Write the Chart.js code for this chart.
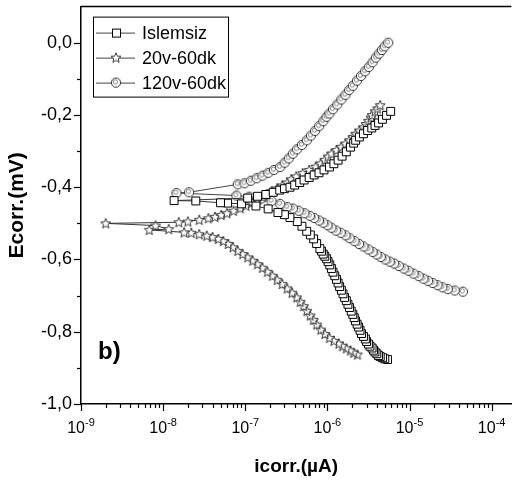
<!DOCTYPE html>
<html>
<head>
<meta charset="utf-8">
<script src="https://cdn.jsdelivr.net/npm/chart.js@4.4.1/dist/chart.umd.min.js"></script>
<style>
  body { margin: 0; background: #fff; }
  canvas { display: block; }
</style>
</head>
<body>
<canvas id="tafelChart" width="518" height="481"></canvas>
<script>
// values, ordered by potential (cathodic end -> anodic end)
// current in A (axis is labelled µA but ticks run 1e-9 .. 1e-4), potential in V

const islemsizI = [5.4e-6, 5.0e-6, 4.7e-6, 4.4e-6, 4.2e-6, 4.0e-6, 3.8e-6, 3.65e-6, 3.5e-6, 3.3e-6,
  3.16e-6, 3.0e-6, 2.9e-6, 2.75e-6, 2.6e-6, 2.5e-6, 2.4e-6, 2.3e-6, 2.2e-6, 2.12e-6,
  2.04e-6, 1.95e-6, 1.86e-6, 1.78e-6, 1.7e-6, 1.62e-6, 1.55e-6, 1.48e-6, 1.41e-6, 1.35e-6,
  1.29e-6, 1.23e-6, 1.17e-6, 1.12e-6, 1.07e-6, 1.02e-6, 9.8e-7, 9.3e-7, 8.9e-7, 8.5e-7,
  8.1e-7, 7.4e-7, 6.8e-7, 6.2e-7, 5.6e-7, 4.9e-7, 4.3e-7, 3.5e-7, 3.0e-7, 2.5e-7,
  1.9e-7, 1.35e-7, 9e-8, 6.1e-8, 5.0e-8, 2.5e-8, 1.36e-8,
  1.07e-7, 1.41e-7, 1.78e-7, 2.19e-7, 2.63e-7, 3.0e-7, 3.5e-7, 4.0e-7, 4.6e-7, 5.2e-7,
  6.0e-7, 6.9e-7, 7.9e-7, 9.1e-7, 1.06e-6, 1.2e-6, 1.35e-6, 1.51e-6, 1.7e-6, 1.91e-6,
  2.09e-6, 2.21e-6, 2.45e-6, 2.75e-6, 3.09e-6, 3.47e-6, 3.8e-6, 4.2e-6, 4.68e-6, 5.25e-6, 5.9e-6];
const islemsizE = [-0.877, -0.875, -0.872, -0.869, -0.866, -0.861, -0.856, -0.851, -0.845, -0.840,
  -0.834, -0.827, -0.820, -0.813, -0.805, -0.796, -0.787, -0.779, -0.770, -0.761,
  -0.752, -0.743, -0.733, -0.724, -0.714, -0.705, -0.695, -0.685, -0.675, -0.665,
  -0.655, -0.645, -0.635, -0.625, -0.615, -0.606, -0.598, -0.591, -0.585, -0.577,
  -0.570, -0.556, -0.543, -0.532, -0.522, -0.508, -0.495, -0.484, -0.476, -0.470,
  -0.460, -0.452, -0.446, -0.444, -0.443, -0.438, -0.437,
  -0.430, -0.425, -0.420, -0.414, -0.408, -0.404, -0.400, -0.394, -0.387, -0.380,
  -0.373, -0.366, -0.360, -0.352, -0.344, -0.335, -0.325, -0.314, -0.302, -0.289,
  -0.278, -0.270, -0.261, -0.252, -0.243, -0.236, -0.229, -0.222, -0.212, -0.201, -0.190];

const v20I = [2.32e-6, 2.09e-6, 1.91e-6, 1.7e-6, 1.53e-6, 1.38e-6, 1.2e-6, 1.06e-6, 9.33e-7, 8.32e-7,
  7.41e-7, 6.76e-7, 6.17e-7, 5.62e-7, 5.13e-7, 4.68e-7, 4.23e-7, 3.72e-7, 3.24e-7, 2.82e-7,
  2.45e-7, 2.14e-7, 1.86e-7, 1.62e-7, 1.41e-7, 1.23e-7, 1.07e-7, 9.3e-8, 8.1e-8, 7.1e-8,
  6.2e-8, 5.4e-8, 4.7e-8, 4.0e-8, 3.4e-8, 2.75e-8, 2.2e-8, 1.8e-8, 6.8e-9, 1.17e-8, 8.1e-9,
  2.0e-9,
  1.55e-8, 2.0e-8, 2.75e-8, 3.55e-8, 4.27e-8, 5.1e-8, 6.0e-8, 7.2e-8, 8.7e-8, 1.02e-7,
  1.2e-7, 1.41e-7, 1.62e-7, 1.82e-7, 2.09e-7, 2.45e-7, 2.82e-7, 3.24e-7, 3.63e-7, 4.17e-7,
  5.0e-7, 6.0e-7, 7.2e-7, 8.3e-7, 9.3e-7, 1.02e-6, 1.12e-6, 1.29e-6, 1.48e-6, 1.66e-6,
  1.86e-6, 2.04e-6, 2.21e-6, 2.45e-6, 2.75e-6, 2.95e-6, 3.16e-6, 3.39e-6, 3.5e-6, 3.8e-6,
  4.07e-6, 4.4e-6];
const v20E = [-0.863, -0.858, -0.852, -0.846, -0.840, -0.833, -0.825, -0.817, -0.806, -0.794,
  -0.780, -0.767, -0.755, -0.742, -0.729, -0.717, -0.705, -0.692, -0.680, -0.668,
  -0.656, -0.645, -0.634, -0.623, -0.613, -0.603, -0.594, -0.585, -0.576, -0.566,
  -0.557, -0.549, -0.543, -0.538, -0.534, -0.530, -0.526, -0.525, -0.518, -0.516, -0.506,
  -0.500,
  -0.497, -0.495, -0.490, -0.486, -0.482, -0.477, -0.472, -0.465, -0.458, -0.451,
  -0.443, -0.435, -0.427, -0.419, -0.411, -0.403, -0.395, -0.387, -0.378, -0.370,
  -0.361, -0.352, -0.343, -0.334, -0.324, -0.315, -0.307, -0.297, -0.288, -0.279,
  -0.270, -0.261, -0.252, -0.243, -0.234, -0.225, -0.216, -0.207, -0.200, -0.190,
  -0.182, -0.173];

const v120I = [4.47e-5, 3.55e-5, 2.92e-5, 2.51e-5, 2.19e-5, 1.91e-5, 1.68e-5, 1.48e-5, 1.29e-5, 1.12e-5,
  9.7e-6, 8.5e-6, 7.4e-6, 6.5e-6, 5.75e-6, 5.07e-6, 4.47e-6, 3.98e-6, 3.55e-6, 3.16e-6,
  2.75e-6, 2.43e-6, 2.14e-6, 1.86e-6, 1.66e-6, 1.45e-6, 1.27e-6, 1.12e-6, 1.0e-6, 8.9e-7,
  7.9e-7, 6.9e-7, 6.1e-7, 5.25e-7, 4.47e-7, 3.8e-7, 3.24e-7, 2.66e-7, 2.09e-7, 1.58e-7,
  1.12e-7, 7.8e-8, 1.45e-8, 2.07e-8,
  8.1e-8, 9.8e-8, 1.17e-7, 1.38e-7, 1.62e-7, 1.91e-7, 2.24e-7, 2.66e-7, 3.02e-7, 3.39e-7,
  3.8e-7, 4.27e-7, 4.9e-7, 5.62e-7, 6.31e-7, 7.08e-7, 7.94e-7, 8.91e-7, 9.77e-7, 1.06e-6,
  1.17e-6, 1.32e-6, 1.48e-6, 1.66e-6, 1.84e-6, 2.04e-6, 2.29e-6, 2.57e-6, 2.88e-6, 3.2e-6,
  3.55e-6, 3.89e-6, 4.27e-6, 4.62e-6, 5.0e-6, 5.5e-6];
const v120E = [-0.689, -0.686, -0.682, -0.677, -0.671, -0.665, -0.659, -0.653, -0.646, -0.639,
  -0.631, -0.625, -0.618, -0.611, -0.606, -0.600, -0.593, -0.586, -0.579, -0.572,
  -0.564, -0.557, -0.549, -0.541, -0.533, -0.526, -0.520, -0.512, -0.505, -0.498,
  -0.492, -0.485, -0.479, -0.472, -0.465, -0.459, -0.455, -0.446, -0.438, -0.431,
  -0.426, -0.423, -0.416, -0.414,
  -0.392, -0.389, -0.382, -0.375, -0.368, -0.360, -0.352, -0.344, -0.332, -0.320,
  -0.307, -0.295, -0.283, -0.270, -0.257, -0.244, -0.231, -0.217, -0.205, -0.196,
  -0.184, -0.171, -0.157, -0.144, -0.131, -0.119, -0.105, -0.092, -0.079, -0.067,
  -0.054, -0.041, -0.030, -0.020, -0.010, 0.000];

const seriesNames = ['Islemsiz', '20v-60dk', '120v-60dk'];

const xDecades = [1e-9, 1e-8, 1e-7, 1e-6, 1e-5, 1e-4];
const xExponents = ['-9', '-8', '-7', '-6', '-5', '-4'];
const yTicks = [-1.0, -0.8, -0.6, -0.4, -0.2, 0.0];
const yTickLabels = ['-1,0', '-0,8', '-0,6', '-0,4', '-0,2', '0,0'];
const yMinorTicks = [-0.9, -0.7, -0.5, -0.3, -0.1];

const FONT = "'Liberation Sans', Arial, sans-serif";

function pairs(xs, ys) {
    return xs.map((v, i) => ({ x: v, y: ys[i] }));
}

// open star marker
function makeStar() {
    let c = document.createElement('canvas');
    c.width = 12; c.height = 12;
    let g = c.getContext('2d');
    g.beginPath();
    for (let i = 0; i < 10; i++) {
        let r = i % 2 === 0 ? 5.3 : 2.3;
        let a = -Math.PI / 2 + i * Math.PI / 5;
        let px = 6 + r * Math.cos(a), py = 6.4 + r * Math.sin(a);
        if (i === 0) g.moveTo(px, py); else g.lineTo(px, py);
    }
    g.closePath();
    g.fillStyle = '#fff';
    g.fill();
    g.strokeStyle = '#222';
    g.lineWidth = 0.9;
    g.stroke();
    return c;
}

// circle with inner ring (Origin half-filled circle look)
function makeCircle() {
    let c = document.createElement('canvas');
    c.width = 12; c.height = 12;
    let g = c.getContext('2d');
    g.beginPath();
    g.arc(6, 6, 4.6, 0, Math.PI * 2);
    g.fillStyle = '#fff';
    g.fill();
    g.strokeStyle = '#333';
    g.lineWidth = 1;
    g.stroke();
    g.beginPath();
    g.arc(5.4, 5.2, 2.1, 0, Math.PI * 2);
    g.strokeStyle = '#777';
    g.lineWidth = 0.9;
    g.stroke();
    return c;
}

const starImg = makeStar();
const circleImg = makeCircle();

// ticks, top frame, legend and panel letter
const extras = {
    id: 'extras',
    afterDraw(chart) {
        const { ctx, chartArea: a, scales: { x, y } } = chart;
        ctx.save();
        ctx.strokeStyle = '#000';
        ctx.lineWidth = 1.5;
        ctx.beginPath();
        ctx.moveTo(a.left, a.top);
        ctx.lineTo(a.right, a.top);
        ctx.stroke();

        // x ticks + labels
        ctx.lineWidth = 1.2;
        xDecades.forEach((d, i) => {
            for (let k = 1; k < 10; k++) {
                let v = d * k;
                if (v > x.max) break;
                let px = Math.round(x.getPixelForValue(v)) + 0.5;
                ctx.beginPath();
                ctx.moveTo(px, a.bottom);
                ctx.lineTo(px, a.bottom + (k === 1 ? 7 : 4));
                ctx.stroke();
            }
            let px = x.getPixelForValue(d);
            ctx.fillStyle = '#000';
            ctx.textBaseline = 'alphabetic';
            ctx.font = '16px ' + FONT;
            let w1 = ctx.measureText('10').width;
            ctx.font = '11px ' + FONT;
            let w2 = ctx.measureText(xExponents[i]).width;
            let x0 = px - (w1 + w2) / 2;
            ctx.textAlign = 'left';
            ctx.font = '16px ' + FONT;
            ctx.fillText('10', x0, 433);
            ctx.font = '11px ' + FONT;
            ctx.fillText(xExponents[i], x0 + w1, 426);
        });

        // y ticks
        yTicks.forEach(v => {
            let py = Math.round(y.getPixelForValue(v)) + 0.5;
            ctx.beginPath();
            ctx.moveTo(a.left, py);
            ctx.lineTo(a.left - 7, py);
            ctx.stroke();
        });
        yMinorTicks.forEach(v => {
            let py = Math.round(y.getPixelForValue(v)) + 0.5;
            ctx.beginPath();
            ctx.moveTo(a.left, py);
            ctx.lineTo(a.left - 4, py);
            ctx.stroke();
        });

        // legend box
        let lx = a.left + 12, ly = a.top + 10, lw = 135, lh = 80;
        ctx.lineWidth = 1;
        ctx.strokeStyle = '#000';
        ctx.strokeRect(lx + 0.5, ly + 0.5, lw, lh);
        chart.data.datasets.forEach((ds, i) => {
            let ry = ly + 16 + i * 25;
            ctx.strokeStyle = '#444';
            ctx.lineWidth = 1;
            ctx.beginPath();
            ctx.moveTo(lx + 3, ry + 0.5);
            ctx.lineTo(lx + 42, ry + 0.5);
            ctx.stroke();
            let mx = lx + 23;
            if (ds.pointStyle === 'rect') {
                ctx.fillStyle = '#fff';
                ctx.fillRect(mx - 4, ry - 4, 8, 8);
                ctx.strokeStyle = '#000';
                ctx.strokeRect(mx - 3.5, ry - 3.5, 8, 8);
            } else {
                ctx.drawImage(ds.pointStyle, mx - 6, ry - 6);
            }
            ctx.fillStyle = '#000';
            ctx.font = '18px ' + FONT;
            ctx.textAlign = 'left';
            ctx.textBaseline = 'middle';
            ctx.fillText(ds.label, lx + 49, ry + 1);
        });

        ctx.font = 'bold 24px ' + FONT;
        ctx.textBaseline = 'middle';
        ctx.fillText('b)', a.left + 17, 352);
        ctx.restore();
    }
};

function noPad(s) {
    s.paddingTop = 0;
    s.paddingBottom = 0;
    s.paddingLeft = 0;
    s.paddingRight = 0;
}

const ctx = document.getElementById('tafelChart').getContext('2d');
const chart = new Chart(ctx, {
    type: 'scatter',
    data: {
        datasets: [
            {
                label: seriesNames[0],
                data: pairs(islemsizI, islemsizE),
                showLine: true,
                borderColor: '#333',
                borderWidth: 1,
                pointStyle: 'rect',
                pointRadius: 5.6,
                pointBackgroundColor: '#fff',
                pointBorderColor: '#000',
                pointBorderWidth: 1,
            },
            {
                label: seriesNames[1],
                data: pairs(v20I, v20E),
                showLine: true,
                borderColor: '#333',
                borderWidth: 1,
                pointStyle: starImg,
                pointRadius: 5,
            },
            {
                label: seriesNames[2],
                data: pairs(v120I, v120E),
                showLine: true,
                borderColor: '#444',
                borderWidth: 1,
                pointStyle: circleImg,
                pointRadius: 5,
            },
        ]
    },
    options: {
        responsive: false,
        animation: false,
        layout: { padding: { top: 6, right: 0, bottom: 0, left: 0 } },
        plugins: {
            legend: { display: false },
            tooltip: { enabled: false }
        },
        scales: {
            x: {
                type: 'logarithmic',
                min: 1e-9,
                max: 1.74e-4,
                afterBuildTicks: s => { s.ticks = xDecades.map(v => ({ value: v })); },
                afterFit: s => { s.height = 77; noPad(s); },
                grid: { display: false, drawTicks: false },
                border: { display: true, color: '#000', width: 1.5 },
                ticks: { display: false },
                title: {
                    display: true,
                    text: 'icorr.(µA)',
                    color: '#000',
                    font: { size: 19, weight: 'bold', family: FONT },
                    padding: { top: 0, bottom: 3 }
                }
            },
            y: {
                min: -1.0,
                max: 0.1,
                afterBuildTicks: s => { s.ticks = yTicks.map(v => ({ value: v })); },
                afterFit: s => { s.width = 81; noPad(s); },
                grid: { display: false, drawTicks: false },
                border: { display: true, color: '#000', width: 1.5 },
                ticks: {
                    autoSkip: false,
                    padding: 9,
                    color: '#000',
                    font: { size: 18, family: FONT },
                    callback: (v, i) => yTickLabels[i]
                },
                title: {
                    display: true,
                    text: 'Ecorr.(mV)',
                    color: '#000',
                    font: { size: 21, weight: 'bold', family: FONT },
                    padding: { top: 5, bottom: 0 }
                }
            }
        }
    },
    plugins: [extras]
});
</script>
</body>
</html>
